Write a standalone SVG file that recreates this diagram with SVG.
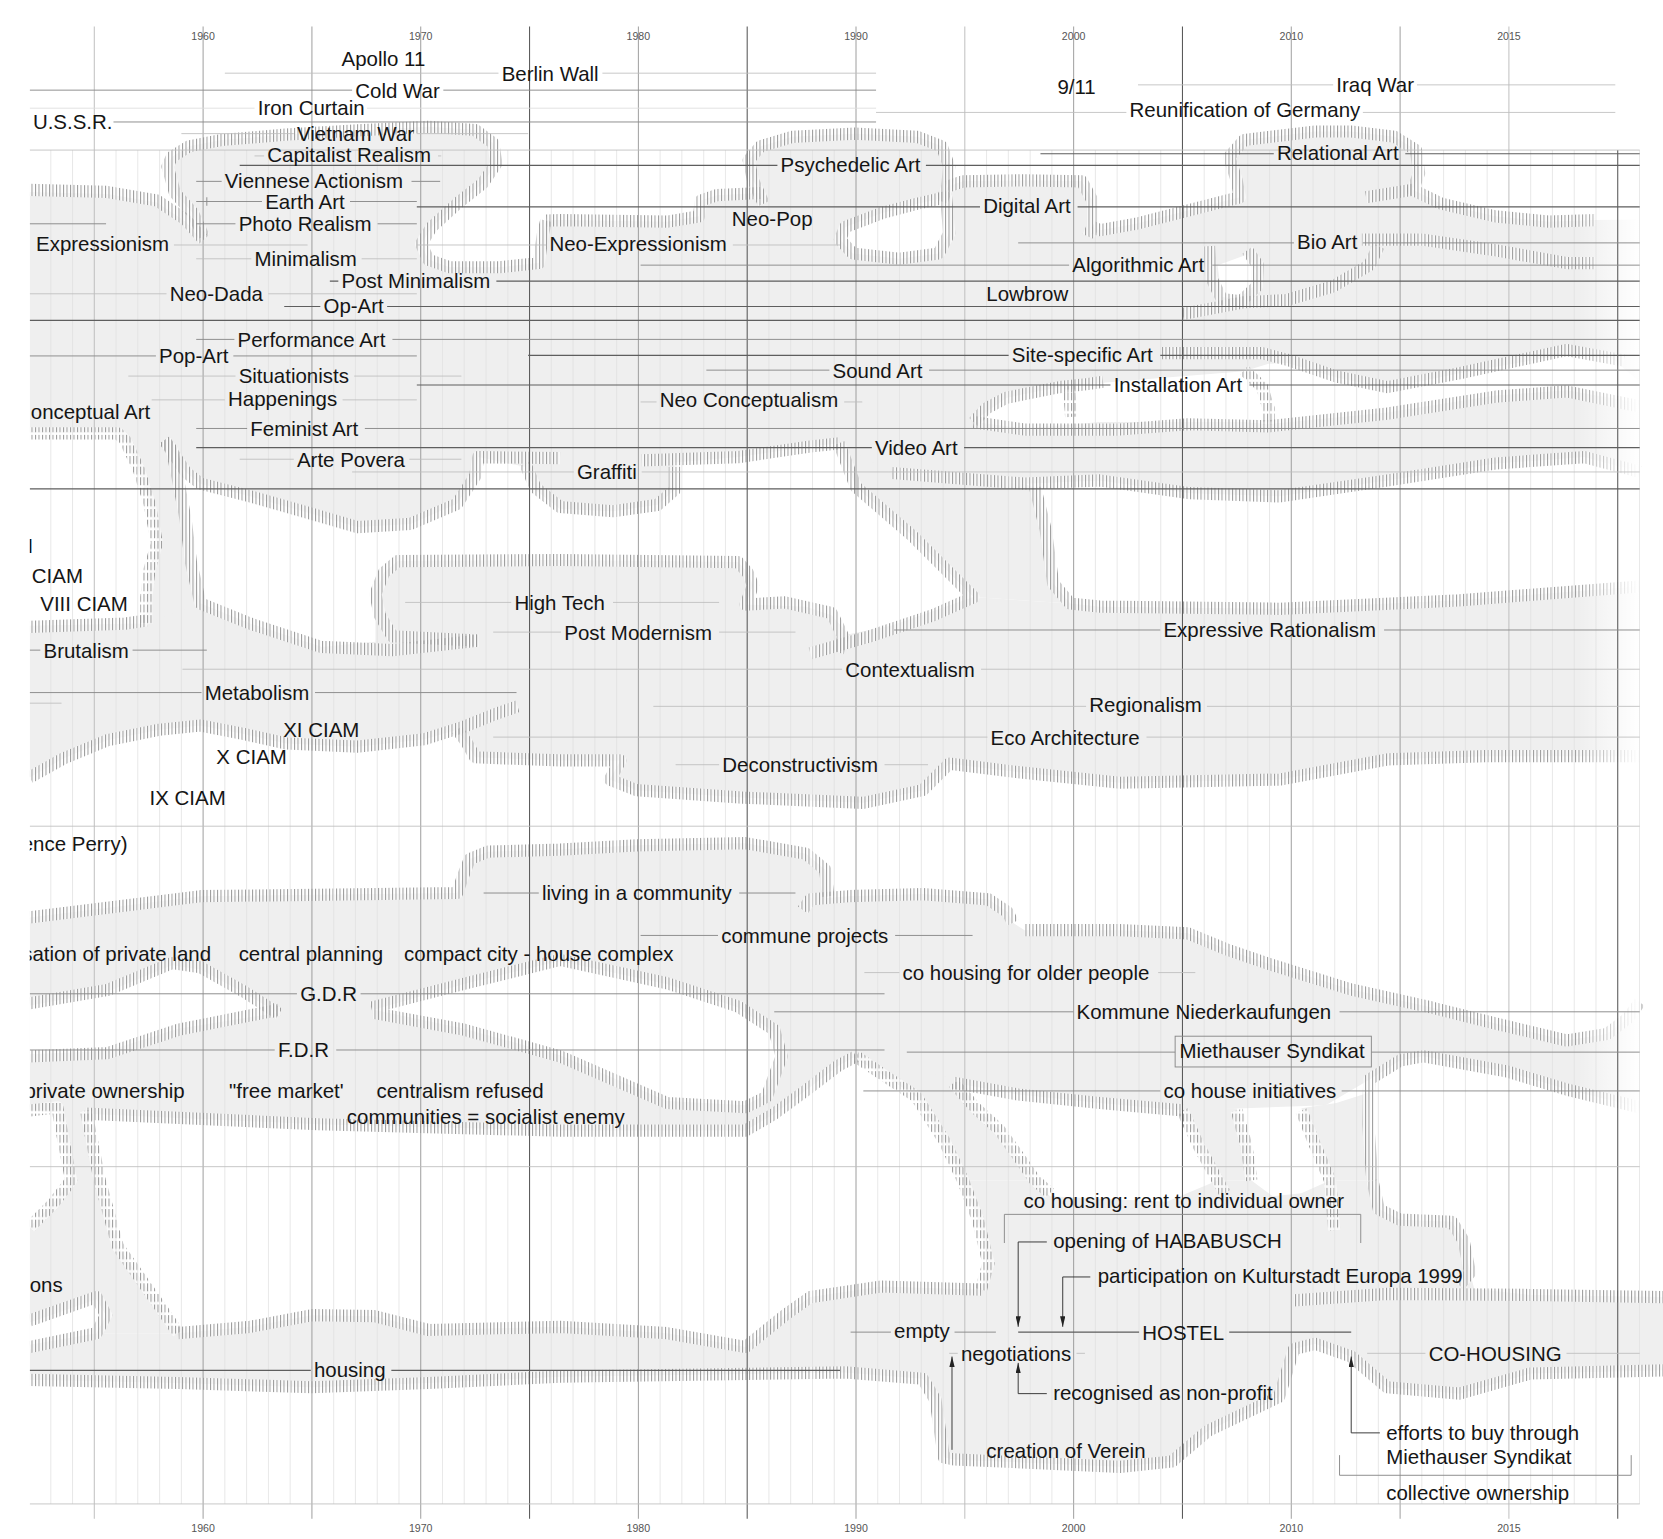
<svg xmlns="http://www.w3.org/2000/svg" xmlns:xlink="http://www.w3.org/1999/xlink" width="1663" height="1539" viewBox="0 0 1663 1539">
<style>
.t{font-family:"Liberation Sans",Arial,sans-serif;font-size:19.3px;fill:#151515}
.yr{font-family:"Liberation Sans",Arial,sans-serif;font-size:10px;fill:#555;text-anchor:middle}
.f{fill:#efefef}
.w{fill:#fff}
.h{fill:none;stroke:url(#hp);stroke-width:11.5;stroke-linejoin:round}
.hd{fill:none;stroke:url(#hpd);stroke-width:11.5;stroke-linejoin:round}
.hw{fill:none;stroke:#fff;stroke-opacity:.6;stroke-width:11.5;stroke-linejoin:round}
.ld{fill:none;stroke:#5e5e5e;stroke-width:1.1}
.lm{fill:none;stroke:#8a8a8a;stroke-width:.9}
.ll{fill:none;stroke:#bdbdbd;stroke-width:.8}
.lv{fill:none;stroke:#dcdcdc;stroke-width:.8}
.gmin{fill:none;stroke:#e0e0e0;stroke-width:.7}
.gL{fill:none;stroke:#bcbcbc;stroke-width:.9}
.gM{fill:none;stroke:#999;stroke-width:.9}
.gD{fill:none;stroke:#5a5a5a;stroke-width:1}
.ar{fill:none;stroke:#333;stroke-width:.9}
</style>
<defs>
<pattern id="hp" patternUnits="userSpaceOnUse" width="3.3" height="16"><rect x="0" y="0" width="0.95" height="16" fill="#9a9a9a"/></pattern>
<pattern id="hpd" patternUnits="userSpaceOnUse" width="3.3" height="10"><rect x="0" y="0" width="0.95" height="7.5" fill="#9a9a9a"/></pattern>
<linearGradient id="fade" x1="0" x2="1" y1="0" y2="0"><stop offset="0" stop-color="#fff" stop-opacity="0"/><stop offset="1" stop-color="#fff" stop-opacity="1"/></linearGradient>
<clipPath id="clip"><rect x="28" y="0" width="1540" height="1451"/></clipPath>
<marker id="ah" markerUnits="userSpaceOnUse" markerWidth="10" markerHeight="5" viewBox="0 0 10 5" refX="10" refY="2.5" orient="auto"><path d="M0,0L10,2.5L0,5z" fill="#222"/></marker>
<path id="h1" d="M28,179 L101,181 L148,189 L175,207 L192,226"/>
<path id="h2" d="M192,223 L182,201 L165,182 L158,157 L162,148 L178,138 L209,132 L269,127 L337,123 L404,119.5 L448,122.6 L465,135 L468,154 L455,173 L431,192 L407,214 L397,230 L404,245 L424,252 L471,252 L508,248 L512,220 L515,208"/>
<path id="h3" d="M515,208 L528,207.5 L629,209 L659,204 L661,189 L676,184 L717,182"/>
<path id="h4" d="M720,192 L710,170 L706,151 L717,138 L747,129 L806,126 L865,129 L888,138 L895,157 L893,176 L888,190"/>
<path id="h5" d="M893,176 L908,171 L966,170 L1020,171 L1030,189 L1030,214 L1026,223"/>
<path id="h6" d="M1030,214 L1037,217 L1071,211 L1122,198 L1169,186 L1166,170 L1159,148 L1173,132 L1240,124 L1274,124 L1315,129 L1335,141.5 L1338,163.5 L1332,179 L1359,192 L1410,204 L1460,209 L1504,207.5"/>
<path id="h7" d="M1288,186 L1332,179"/>
<path id="h8" d="M797,214 L831,201 L865,192 L892,186 L895,220 L885,239 L848,244 L804,239 L792,226 Z"/>
<path id="h9" d="M1284,226 L1342,226 L1410,236 L1477,248 L1504,248"/>
<path id="h10" d="M1115,296 L1173,285 L1213,283 L1257,270 L1291,250 L1300,232"/>
<path id="h11" d="M1140,232 L1142,262 L1152,282 L1170,284 L1185,270 L1186,250 L1176,236"/>
<path id="h12" d="M28,408.6 L111,408.6 L118,415 L131,443 L141,475 L148,512 L141,537 L138,563 L138,588"/>
<path id="h13" d="M155,415 L162,424 L168,453 L175,490 L180,530 L189,569 L236,588 L303,610 L370,613 L451,604"/>
<path id="h14" d="M155,415 L175,445 L189,456 L236,468 L303,487 L337,497 L387,494 L431,475 L448,449 L451,431 L528,432"/>
<path id="h15" d="M605,434 L696,431 L764,421 L791,418"/>
<path id="h16" d="M495,437 L505,460 L528,478 L578,482 L620,476 L636,462 L636,440"/>
<path id="h17" d="M791,418 L807,459 L860,505 L900,545 L918,563 L880,580 L820,600 L764,616"/>
<path id="h18" d="M976,460 L986,500 L993,550 L1009,569 L1037,572 L1206,574 L1376,566 L1546,553"/>
<path id="h19" d="M841,446 L966,456 L1037,453 L1122,465 L1206,468 L1308,453 L1410,437 L1494,431 L1546,445"/>
<path id="h20" d="M1095,333 L1190,333 L1213,339 L1260,355 L1308,365 L1376,352 L1477,330 L1531,340"/>
<path id="h21" d="M918,398 L966,405 L1056,405 L1120,400 L1196,402 L1308,390 L1410,374 L1477,369 L1545,383"/>
<path id="h22" d="M918,398 L930,385 L949,375 L999,365 L1026,362 L1040,360"/>
<path id="h23" d="M1173,349 L1190,365 L1196,385 L1196,400"/>
<path id="h24" d="M1008,364 L1010,393"/>
<path id="h25" d="M451,604 L370,600 L358,580 L354,560 L362,540 L375,529 L528,528 L696,530 L705,540 L710,552 L703,570 L740,568 L784,578 L795,600 L790,615"/>
<path id="h26" d="M28,733 L60,715 L101,698 L150,688 L189,684 L230,692 L270,701 L337,704 L400,697 L438,685 L465,674 L488,666"/>
<path id="h27" d="M431,688 L440,700 L448,714 L528,717 L585,717 L575,735 L600,745 L700,752 L814,757 L870,745 L895,720 L960,728 L1056,738 L1207,735 L1308,716 L1400,713 L1546,713"/>
<path id="h28" d="M28,591 L118,588 L138,585"/>
<path id="h29" d="M28,865 L189,845 L431,842 L437,825 L443,810 L460,803 L528,801 L600,797 L703,795 L760,805 L778,820 L781,845"/>
<path id="h30" d="M757,858 L764,848 L800,845 L870,843 L932,848 L950,860 L955,870"/>
<path id="h31" d="M966,877 L1056,877 L1120,880 L1156,895 L1200,910 L1274,933 L1350,950 L1410,965 L1477,981 L1515,975 L1535,960 L1546,945"/>
<path id="h32" d="M1294,1113 L1290,1060 L1291,1018 L1320,1000 L1342,996 L1420,1010 L1480,1028 L1546,1044"/>
<path id="h33" d="M28,946 L101,933.5 L162,908 L189,912 L230,935 L263,956"/>
<path id="h34" d="M28,996 L101,993 L168,971 L263,952"/>
<path id="h35" d="M350,950 L440,927 L528,905 L629,927 L696,949 L730,971 L737,996 L723,1034 L703,1044 L629,1040 L528,996 L438,971 L352,955"/>
<path id="h36" d="M81,1050 L300,1060 L528,1066 L703,1066 L730,1050 L760,1028 L790,1005 L807,996"/>
<path id="h37" d="M28,1047 L54,1044 L67,1113 L50,1135 L28,1157"/>
<path id="h38" d="M81,1047 L94,1113 L111,1175 L151,1232 L168,1257"/>
<path id="h39" d="M807,996 L835,1015 L864,1034 L890,1075 L908,1113 L922,1150 L932,1191 L925,1216"/>
<path id="h40" d="M899,1021 L920,1045 L942,1065 L960,1090 L976,1113 L990,1125"/>
<path id="h41" d="M899,1021 L960,1032 L1037,1040 L1115,1047"/>
<path id="h42" d="M1115,1047 L1130,1080 L1148,1113 L1155,1125"/>
<path id="h43" d="M1166,1047 L1175,1080 L1180,1113"/>
<path id="h44" d="M1227,1047 L1240,1080 L1254,1113 L1258,1160"/>
<path id="h45" d="M1294,1113 L1300,1140 L1320,1150 L1369,1152 L1380,1170 L1386,1200 L1376,1212"/>
<path id="h46" d="M168,1257 L236,1251 L294,1240 L353,1241 L404,1254 L528,1251 L629,1257 L703,1270 L740,1240 L764,1223 L831,1213 L925,1216"/>
<path id="h47" d="M28,1301 L168,1304 L294,1308 L404,1304 L528,1298 L797,1294 L870,1300 L882,1320 L890,1374 L899,1376 L1056,1383 L1105,1378 L1139,1349 L1206,1317 L1220,1272 L1240,1267 L1274,1279 L1308,1308 L1376,1314 L1443,1295 L1568,1292"/>
<path id="h48" d="M1220,1226 L1308,1220 L1443,1221 L1568,1223"/>
<path id="h49" d="M28,1245 L91,1223 L100,1240 L91,1257 L28,1270"/>
</defs>
<g transform="scale(1.0606)">
<g clip-path="url(#clip)">
<g id="fills">
<path class="f" d="M28,181 L101,183 L148,191 L175,209 L190,226 L182,201 L165,182 L158,157 L162,148 L178,138 L209,132 L269,127 L337,123 L404,119.5 L448,122.6 L465,135 L468,154 L455,173 L431,192 L407,214 L397,230 L404,245 L424,252 L471,252 L508,248 L512,220 L515,208 L528,207.5 L629,209 L659,204 L661,189 L676,184 L717,182 L710,170 L706,151 L717,138 L747,129 L806,126 L865,129 L888,138 L895,157 L893,176 L908,171 L966,170 L1020,171 L1030,189 L1030,214 L1037,217 L1071,211 L1122,198 L1169,186 L1166,170 L1159,148 L1173,132 L1240,124 L1274,124 L1315,129 L1335,141.5 L1338,163.5 L1332,179 L1359,192 L1410,204 L1460,209 L1504,207.5 L1546,207 L1546,445 L1494,431 L1410,437 L1308,453 L1206,468 L1122,465 L1037,453 L966,456 L841,446 L800,428 L791,418 L764,421 L696,431 L636,436 L636,462 L620,476 L578,482 L528,480 L505,462 L495,440 L451,431 L448,449 L431,475 L387,494 L337,497 L303,487 L236,468 L189,456 L175,445 L162,424 L155,415 L118,415 L111,408.6 L28,408.6 Z"/>
<path class="f" d="M111,408 L155,408 L155,415 L162,424 L168,453 L175,490 L180,530 L189,569 L236,588 L303,610 L354,612 L354,625 L138,625 L138,563 L141,537 L148,512 L141,475 L131,443 L118,415 Z"/>
<path class="f" d="M28,590 L118,588 L138,588 L189,569 L236,588 L303,610 L354,605 L354,560 L362,540 L375,529 L528,528 L696,530 L705,540 L710,552 L703,570 L760,572 L784,580 L800,598 L840,590 L918,563 L1009,569 L1037,572 L1206,574 L1376,566 L1546,553 L1546,713 L1400,713 L1308,716 L1207,735 L1056,738 L960,728 L895,720 L870,745 L814,757 L700,752 L600,745 L575,735 L585,717 L528,717 L448,714 L440,700 L431,688 L400,697 L337,704 L270,701 L230,692 L189,684 L150,688 L101,698 L60,715 L28,733 Z"/>
<path class="f" d="M791,418 L841,446 L966,456 L976,460 L986,500 L993,550 L1009,569 L918,563 L900,545 L860,505 L807,459 Z"/>
<path class="f" d="M28,865 L189,845 L431,842 L437,825 L443,810 L460,803 L528,801 L600,797 L703,795 L760,805 L778,820 L781,845 L757,858 L764,848 L800,845 L870,843 L932,848 L950,860 L955,870 L966,877 L1056,877 L1120,880 L1156,895 L1200,910 L1274,933 L1350,950 L1410,965 L1477,981 L1515,975 L1535,960 L1546,945 L1546,1044 L1480,1028 L1420,1010 L1342,996 L1320,1000 L1291,1018 L1250,1042 L1115,1047 L1037,1040 L960,1032 L899,1021 L864,1012 L807,996 L790,1005 L760,1028 L730,1050 L703,1066 L528,1066 L300,1060 L81,1050 L28,1047 Z"/>
<path class="f" d="M800,994 L835,1015 L864,1034 L890,1075 L908,1113 L976,1113 L960,1090 L942,1065 L920,1045 L905,1018 Z"/>
<path class="f" d="M1115,1045 L1130,1080 L1148,1113 L1180,1113 L1175,1080 L1166,1045 Z"/>
<path class="f" d="M1227,1045 L1240,1080 L1254,1113 L1294,1113 L1290,1060 L1291,1030 L1260,1040 Z"/>
<path class="f" d="M54,1044 L81,1047 L94,1113 L111,1175 L151,1232 L168,1257 L28,1257 L28,1157 L50,1135 L67,1113 Z"/>
<path class="f" d="M28,1257 L168,1257 L236,1251 L294,1240 L353,1241 L404,1254 L528,1251 L629,1257 L703,1270 L740,1240 L764,1223 L831,1213 L925,1216 L932,1191 L922,1150 L908,1113 L976,1113 L990,1128 L1100,1133 L1148,1113 L1180,1113 L1200,1128 L1227,1125 L1254,1113 L1294,1113 L1300,1140 L1320,1150 L1369,1152 L1380,1170 L1386,1200 L1390,1215 L1443,1221 L1568,1223 L1568,1292 L1443,1295 L1376,1314 L1308,1308 L1274,1279 L1240,1267 L1220,1272 L1206,1317 L1139,1349 L1105,1378 L1056,1383 L899,1376 L890,1374 L882,1320 L870,1300 L797,1294 L528,1298 L404,1304 L294,1308 L168,1304 L28,1301 Z"/>
<path class="w" d="M797,214 L831,201 L865,192 L892,186 L895,220 L885,239 L848,244 L804,239 L792,226 Z"/>
<path class="w" d="M918,397 L949,375 L999,365 L1026,362 L1100,356 L1173,350 L1196,343 L1213,342 L1260,356 L1308,366 L1376,352 L1477,334 L1520,338 L1546,360 L1546,380 L1477,368 L1410,373 L1308,389 L1196,400 L1173,398 L1037,398 L966,404 L918,398 Z"/>
<path class="w" d="M1148,250 L1176,240 L1184,255 L1182,270 L1168,282 L1152,280 Z"/>
<path class="w" d="M28,948 L101,935 L162,910 L189,914 L230,936 L262,955 L168,970 L101,991 L28,994 Z"/>
<path class="w" d="M352,952 L440,927 L528,906 L629,928 L696,950 L728,972 L735,996 L722,1032 L703,1042 L629,1038 L528,995 L438,970 Z"/>
<path class="w" d="M28,1247 L91,1225 L100,1240 L91,1257 L28,1268 Z"/>
</g>
<g id="hatch-under" class="hw">
<use href="#h1"/><use href="#h2"/><use href="#h3"/><use href="#h4"/><use href="#h5"/><use href="#h6"/><use href="#h7"/><use href="#h8"/><use href="#h9"/><use href="#h10"/><use href="#h11"/><use href="#h12"/><use href="#h13"/><use href="#h14"/><use href="#h15"/><use href="#h16"/><use href="#h17"/><use href="#h18"/><use href="#h19"/><use href="#h20"/><use href="#h21"/><use href="#h22"/><use href="#h23"/><use href="#h24"/><use href="#h25"/><use href="#h26"/><use href="#h27"/><use href="#h28"/><use href="#h29"/><use href="#h30"/><use href="#h31"/><use href="#h32"/><use href="#h33"/><use href="#h34"/><use href="#h35"/><use href="#h36"/><use href="#h37"/><use href="#h38"/><use href="#h39"/><use href="#h40"/><use href="#h41"/><use href="#h42"/><use href="#h43"/><use href="#h44"/><use href="#h45"/><use href="#h46"/><use href="#h47"/><use href="#h48"/><use href="#h49"/>
</g>
<g id="hatch" class="h">
<use href="#h1"/><use href="#h2"/><use href="#h3"/><use href="#h4"/><use href="#h5"/><use href="#h6"/><use href="#h7"/><use href="#h8"/><use href="#h9"/><use href="#h10"/><use href="#h11"/><use href="#h13"/><use href="#h14"/><use href="#h15"/><use href="#h16"/><use href="#h17"/><use href="#h18"/><use href="#h19"/><use href="#h20"/><use href="#h21"/><use href="#h22"/><use href="#h25"/><use href="#h26"/><use href="#h27"/><use href="#h28"/><use href="#h29"/><use href="#h30"/><use href="#h31"/><use href="#h32"/><use href="#h33"/><use href="#h34"/><use href="#h35"/><use href="#h36"/><use href="#h41"/><use href="#h45"/><use href="#h46"/><use href="#h47"/><use href="#h48"/><use href="#h49"/>
</g>
<g id="hatch-dashed" class="hd">
<use href="#h12"/><use href="#h23"/><use href="#h24"/><use href="#h37"/><use href="#h38"/><use href="#h39"/><use href="#h40"/><use href="#h42"/><use href="#h43"/><use href="#h44"/>
</g>
<rect x="1488" y="110" width="58" height="1000" fill="url(#fade)"/>
<g id="grid">
<path class="gmin" d="M47.9,141.5V1418 M68.4,141.5V1418 M109.4,141.5V1418 M129.9,141.5V1418 M150.5,141.5V1418 M171,141.5V1418 M212,141.5V1418 M232.5,141.5V1418 M253.1,141.5V1418 M273.6,141.5V1418 M314.6,141.5V1418 M335.1,141.5V1418 M355.7,141.5V1418 M376.2,141.5V1418 M417.2,141.5V1418 M437.7,141.5V1418 M458.3,141.5V1418 M478.8,141.5V1418 M519.8,141.5V1418 M540.3,141.5V1418 M560.9,141.5V1418 M581.4,141.5V1418 M622.4,141.5V1418 M642.9,141.5V1418 M663.5,141.5V1418 M684,141.5V1418 M725,141.5V1418 M745.5,141.5V1418 M766.1,141.5V1418 M786.6,141.5V1418 M827.6,141.5V1418 M848.1,141.5V1418 M868.7,141.5V1418 M889.2,141.5V1418 M930.2,141.5V1418 M950.7,141.5V1418 M971.3,141.5V1418 M991.8,141.5V1418 M1032.8,141.5V1418 M1053.3,141.5V1418 M1073.9,141.5V1418 M1094.4,141.5V1418 M1135.4,141.5V1418 M1155.9,141.5V1418 M1176.5,141.5V1418 M1197,141.5V1418 M1238,141.5V1418 M1258.5,141.5V1418 M1279.1,141.5V1418 M1299.6,141.5V1418 M1340.6,141.5V1418 M1361.1,141.5V1418 M1381.7,141.5V1418 M1402.2,141.5V1418 M1443.2,141.5V1418 M1463.7,141.5V1418 M1484.3,141.5V1418 M1504.8,141.5V1418 M1545.8,141.5V1418"/>
<path class="gL" d="M88.9,25V1432 M909.7,25V1432 M1422.7,25V1432"/>
<path class="gM" d="M191.5,25V1432 M294.1,25V1432 M396.7,25V1432 M601.9,25V1432 M807.1,25V1432 M1012.3,25V1432 M1217.5,25V1432 M1320.1,25V1432"/>
<path class="gD" d="M499.3,25V1432 M704.5,25V1432 M1114.9,25V1432 M1525.3,141.5V1432"/>
</g>
<g id="connectors">
<path class="ld" d="M226,156H733 M873,156H1546 M981,145H1201 M1325,145H1546 M393,195H924 M1016,195H1546 M311,265H319 M468,265H1546 M268,289H302 M365,289H1546 M28,302H1546 M498,335H951 M1094,335H1546 M393,363H1047 M1178,363H1546 M185,422H822 M909,422H1546 M28,461H1546 M28,1292H293 M369,1292H792 M960,1256H1074 M1159,1256H1274"/>
<path class="lm" d="M28,85H332 M418,85H826 M107,115H826 M185,171H209 M388,171H415 M185,190H247 M330,190H393 M195,186V194 M28,211H100 M185,211H222 M356,211H393 M960,229H1220 M1285,229H1546 M604,250H1008 M1143,250H1546 M185,320H221 M370,320H1546 M28,335.6H147 M220,335.6H393 M666,349H782 M876,349H1546 M185,404H233 M344,404H1546 M28,613H38 M125,613H195 M843,594H1094 M1305,594H1546 M28,653H190 M297,653H487 M456,842H508 M697,842H750 M604,882H677 M844,882H917 M28,937H280 M340,937H834 M730,954H1012 M1263,954H1546 M28,990H259 M317,990H834 M855,992H1108 M1293,992H1546 M814,1028.6H1094 M1265,1028.6H1546 M802,1256H840 M900,1256H939 M947,1172V1145H1283V1172 M1263,1372V1391H1538V1372"/>
<path class="ll" d="M212,69H470 M568,69H826 M171,126H277 M393,126H498 M1073,80H1257 M1336,80H1523 M826,106H1062 M1285,106H1523 M28,141.5H1546 M240,147H249 M413,147H416 M164,231H290 M393,231H515 M691,231H792 M185,244H237 M341,244H393 M28,277H157 M253,277H393 M121,354.6H222 M334,354.6H435 M143,377H212 M323,377H393 M604,379H619 M796,379H813 M226,433H277 M386,433H435 M332,445H541 M605,445H1546 M172,631H794 M925,631H1546 M382,568H482 M578,568H678 M465,596H529 M678,596H750 M28,663H58 M616,666H1024 M1138,666H1546 M465,695H931 M1081,695H1546 M637,721H678 M834,721H875 M28,779H1546 M815,917H848 M1092,917H1127 M28,1100H1546 M895,1276H903 M1015,1276H1023 M1289,1276H1344 M1477,1276H1546 M28,1418H1546"/>
<path class="lv" d="M28,102H240 M346,102H826"/>
<rect x="1108" y="977" width="185" height="29" fill="none" stroke="#8a8a8a" stroke-width=".9"/>
<path class="ar" d="M987,1171H960V1251" marker-end="url(#ah)"/>
<path class="ar" d="M1028,1204H1002V1251" marker-end="url(#ah)"/>
<path class="ar" d="M987,1314H960V1285" marker-end="url(#ah)"/>
<path class="ar" d="M897.6,1367V1279" marker-end="url(#ah)"/>
<path class="ar" d="M1301,1351H1274V1279" marker-end="url(#ah)"/>
</g>
<g id="labels" class="t">
<g id="events">
<text x="322" y="62">Apollo 11</text>
<text x="473" y="76">Berlin Wall</text>
<text x="335" y="92">Cold War</text>
<text x="243" y="108">Iron Curtain</text>
<text x="31" y="122">U.S.S.R.</text>
<text x="280" y="133">Vietnam War</text>
<text x="997" y="89">9/11</text>
<text x="1260" y="87">Iraq War</text>
<text x="1065" y="110">Reunification of Germany</text>
</g>
<g id="art">
<text x="252" y="153">Capitalist Realism</text>
<text x="736" y="162">Psychedelic Art</text>
<text x="1204" y="151">Relational Art</text>
<text x="212" y="177">Viennese Actionism</text>
<text x="250" y="197">Earth Art</text>
<text x="927" y="201">Digital Art</text>
<text x="225" y="218">Photo Realism</text>
<text x="690" y="213">Neo-Pop</text>
<text x="34" y="237">Expressionism</text>
<text x="518" y="237">Neo-Expressionism</text>
<text x="1223" y="235">Bio Art</text>
<text x="240" y="251">Minimalism</text>
<text x="1011" y="256">Algorithmic Art</text>
<text x="322" y="272">Post Minimalism</text>
<text x="160" y="284">Neo-Dada</text>
<text x="930" y="284">Lowbrow</text>
<text x="305" y="295">Op-Art</text>
<text x="224" y="327">Performance Art</text>
<text x="150" y="342">Pop-Art</text>
<text x="954" y="341">Site-specific Art</text>
<text x="785" y="356">Sound Art</text>
<text x="225" y="361">Situationists</text>
<text x="1050" y="370">Installation Art</text>
<text x="215" y="383">Happenings</text>
<text x="622" y="384">Neo Conceptualism</text>
<text x="29" y="395">onceptual Art</text>
<text x="236" y="411">Feminist Art</text>
<text x="825" y="429">Video Art</text>
<text x="280" y="440">Arte Povera</text>
<text x="544" y="452">Graffiti</text>
</g>
<g id="architecture">
<text x="26" y="521">I</text>
<text x="30" y="550">CIAM</text>
<text x="38" y="576">VIII CIAM</text>
<text x="485" y="575">High Tech</text>
<text x="532" y="603">Post Modernism</text>
<text x="1097" y="601">Expressive Rationalism</text>
<text x="41" y="620">Brutalism</text>
<text x="797" y="638">Contextualism</text>
<text x="193" y="660">Metabolism</text>
<text x="1027" y="671">Regionalism</text>
<text x="267" y="695">XI CIAM</text>
<text x="934" y="702">Eco Architecture</text>
<text x="204" y="720">X CIAM</text>
<text x="681" y="728">Deconstructivism</text>
<text x="141" y="759">IX CIAM</text>
</g>
<g id="housing">
<text x="20.5" y="802">ence Perry)</text>
<text x="511" y="849">living in a community</text>
<text x="680" y="889">commune projects</text>
<text x="21" y="906">sation of private land</text>
<text x="225" y="906">central planning</text>
<text x="381" y="906">compact city - house complex</text>
<text x="851" y="924">co housing for older people</text>
<text x="283" y="944">G.D.R</text>
<text x="1015" y="961">Kommune Niederkaufungen</text>
<text x="262" y="997">F.D.R</text>
<text x="1112" y="998">Miethauser Syndikat</text>
<text x="23" y="1035">private ownership</text>
<text x="216" y="1035">&quot;free market'</text>
<text x="355" y="1035">centralism refused</text>
<text x="1097" y="1035">co house initiatives</text>
<text x="327" y="1060">communities = socialist enemy</text>
</g>
<g id="hostel">
<text x="965" y="1139">co housing: rent to individual owner</text>
<text x="993" y="1177">opening of HABABUSCH</text>
<text x="1035" y="1210">participation on Kulturstadt Europa 1999</text>
<text x="28" y="1218">ons</text>
<text x="843" y="1262">empty</text>
<text x="1077" y="1263">HOSTEL</text>
<text x="906" y="1283">negotiations</text>
<text x="1347" y="1283">CO-HOUSING</text>
<text x="296" y="1298">housing</text>
<text x="993" y="1320">recognised as non-profit</text>
<text x="1307" y="1358">efforts to buy through</text>
<text x="1307" y="1380">Miethauser Syndikat</text>
<text x="930" y="1375">creation of Verein</text>
<text x="1307" y="1414">collective ownership</text>
</g>
</g>
</g>
<g id="years" class="yr">
<text x="191.5" y="38">1960</text><text x="396.7" y="38">1970</text><text x="601.9" y="38">1980</text><text x="807.1" y="38">1990</text><text x="1012.3" y="38">2000</text><text x="1217.5" y="38">2010</text><text x="1422.7" y="38">2015</text>
<text x="191.5" y="1444">1960</text><text x="396.7" y="1444">1970</text><text x="601.9" y="1444">1980</text><text x="807.1" y="1444">1990</text><text x="1012.3" y="1444">2000</text><text x="1217.5" y="1444">2010</text><text x="1422.7" y="1444">2015</text>
</g>
</g>
</svg>
